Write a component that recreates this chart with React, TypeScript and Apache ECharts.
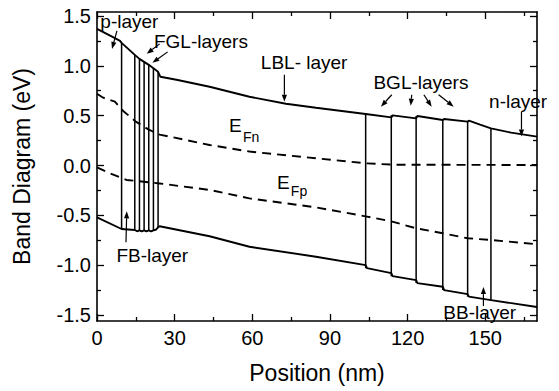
import React, { useEffect, useRef } from "react";
import * as echarts from "echarts";

// Position (nm) / energy (eV) samples of the band edges and quasi-Fermi levels
const conductionBand: [number, number][] = [
  [0, 1.37], [3, 1.33], [6, 1.29], [8.9, 1.25], [9.5, 1.23], [14.6, 1.11],
  [16.4, 1.07], [18.2, 1.04], [20.0, 1.01], [21.8, 0.975], [23.6, 0.94],
  [24.5, 0.89], [30.7, 0.86], [43.5, 0.79], [58.9, 0.69], [73, 0.62],
  [84.6, 0.58], [103.8, 0.517], [113.7, 0.483], [114.2, 0.503], [123.3, 0.473],
  [123.8, 0.497], [133.6, 0.457], [134.1, 0.467], [143.2, 0.44], [143.7, 0.45],
  [148, 0.41], [152.2, 0.373], [160, 0.33], [170, 0.29],
];

const valenceBand: [number, number][] = [
  [0, -0.52], [9.5, -0.637], [14.6, -0.647], [15.5, -0.66], [16.4, -0.65],
  [17.3, -0.66], [18.2, -0.65], [19.1, -0.66], [20.0, -0.65], [20.9, -0.66],
  [21.8, -0.65], [22.7, -0.645], [23.6, -0.62], [24.2, -0.61], [43.5, -0.71],
  [58.9, -0.815], [84.6, -0.915], [103.8, -1.0], [104.3, -1.03], [113.7, -1.08],
  [114.2, -1.11], [123.3, -1.15], [123.8, -1.18], [133.6, -1.216], [134.1, -1.25],
  [143.2, -1.29], [143.7, -1.316], [152.2, -1.35], [170, -1.42],
];

const electronFermi: [number, number][] = [
  [0, 0.72], [2.4, 0.68], [6.9, 0.64], [10, 0.55], [15, 0.44], [20, 0.36],
  [24.2, 0.31], [28, 0.29], [43.5, 0.206], [58.9, 0.14], [84.6, 0.072],
  [103.8, 0.022], [115, 0.008], [170, 0.005],
];

const holeFermi: [number, number][] = [
  [0, -0.018], [5, -0.078], [11.4, -0.145], [24.2, -0.18], [43.5, -0.245],
  [58.9, -0.33], [84.6, -0.42], [103.8, -0.51], [113.7, -0.56], [123.3, -0.63],
  [133.6, -0.68], [143.2, -0.73], [152.2, -0.747], [170, -0.79],
];

// Layer interfaces: position, conduction-band edge, valence-band edge
const interfaceX = [9.5, 14.6, 16.4, 18.2, 20.0, 21.8, 23.6, 103.8, 113.7, 123.3, 133.6, 143.2, 152.2];
const interfaceTop = [1.23, 1.11, 1.07, 1.04, 1.01, 0.975, 0.94, 0.517, 0.503, 0.497, 0.467, 0.45, 0.373];
const interfaceBottom = [-0.637, -0.647, -0.65, -0.65, -0.65, -0.65, -0.62, -1.03, -1.11, -1.18, -1.25, -1.316, -1.35];

const xMajor = [0, 30, 60, 90, 120, 150];
const xMinor = [15, 45, 75, 105, 135, 165];
const yMajor = [-1.5, -1.0, -0.5, 0, 0.5, 1.0, 1.5];
const yMinor = [-1.25, -0.75, -0.25, 0.25, 0.75, 1.25];

// Annotation labels (left edge / vertical centre, in data units)
const labels: { text: string; at: [number, number]; size?: number }[] = [
  { text: "p-layer", at: [1.3, 1.44] },
  { text: "FGL-layers", at: [22.0, 1.24] },
  { text: "LBL- layer", at: [63.3, 1.03] },
  { text: "BGL-layers", at: [106.8, 0.83] },
  { text: "n-layer", at: [151.5, 0.64] },
  { text: "E", at: [51.0, 0.4] },
  { text: "Fn", at: [56.4, 0.29], size: 14 },
  { text: "E", at: [69.5, -0.17] },
  { text: "Fp", at: [74.9, -0.26], size: 14 },
  { text: "FB-layer", at: [7.5, -0.9] },
  { text: "BB-layer", at: [133.8, -1.47] },
];

// Pointer arrows: tail -> head
const arrows: [[number, number], [number, number]][] = [
  [[7.7, 1.35], [5.8, 1.17]],
  [[24.2, 1.22], [19.2, 1.12]],
  [[27.3, 1.14], [21.4, 1.03]],
  [[72.4, 0.91], [72.4, 0.64]],
  [[113.9, 0.71], [109.7, 0.59]],
  [[121.6, 0.71], [121.2, 0.6]],
  [[126.3, 0.71], [129.3, 0.59]],
  [[132, 0.71], [137.8, 0.59]],
  [[164, 0.54], [164, 0.29]],
  [[11.2, -0.77], [11.5, -0.46]],
  [[149.3, -1.41], [149.3, -1.22]],
];

const FONT = "'Liberation Sans', Arial, Helvetica, sans-serif";
const X_MIN = 0;
const X_MAX = 170;
const Y_MIN = -1.56;
const Y_MAX = 1.54;

function xAxisDef(position: "top" | "bottom", values: number[], major: boolean, withLabels: boolean) {
  return {
    type: "value" as const,
    min: X_MIN,
    max: X_MAX,
    position,
    name: withLabels ? "Position (nm)" : "",
    nameLocation: "middle" as const,
    nameGap: 40,
    nameTextStyle: { color: "#000", fontSize: 23, fontFamily: FONT },
    axisLine: { show: major, onZero: false, lineStyle: { color: "#000", width: 1.6 } },
    axisTick: {
      show: true,
      inside: true,
      length: major ? 7 : 4,
      customValues: values,
      lineStyle: { color: "#000", width: 1.3 },
    },
    axisLabel: withLabels
      ? { show: true, customValues: values, color: "#000", fontSize: 20, fontFamily: FONT, margin: 7 }
      : { show: false },
    splitLine: { show: false },
  };
}

function yAxisDef(position: "left" | "right", values: number[], major: boolean, withLabels: boolean) {
  return {
    type: "value" as const,
    min: Y_MIN,
    max: Y_MAX,
    position,
    name: withLabels ? "Band Diagram (eV)" : "",
    nameLocation: "middle" as const,
    nameGap: 64,
    nameRotate: 90,
    nameTextStyle: { color: "#000", fontSize: 23, fontFamily: FONT },
    axisLine: { show: major, onZero: false, lineStyle: { color: "#000", width: 1.6 } },
    axisTick: {
      show: true,
      inside: true,
      length: major ? 7 : 4,
      customValues: values,
      lineStyle: { color: "#000", width: 1.3 },
    },
    axisLabel: withLabels
      ? {
          show: true,
          customValues: values,
          color: "#000",
          fontSize: 20,
          fontFamily: FONT,
          margin: 6,
          formatter: (v: number) => v.toFixed(1),
        }
      : { show: false },
    splitLine: { show: false },
  };
}

export default function App() {
  const ref = useRef<HTMLDivElement>(null);

  useEffect(() => {
    document.body.style.margin = "0";
    const el = ref.current!;
    const chart = echarts.init(el, null, { renderer: "svg", width: 559, height: 391 });

    const solid = (name: string, data: [number, number][]) => ({
      name,
      type: "line" as const,
      data,
      showSymbol: false,
      symbol: "none",
      smooth: false,
      lineStyle: { color: "#000", width: 1.9 },
      silent: true,
    });
    const dashed = (name: string, data: [number, number][]) => ({
      name,
      type: "line" as const,
      data,
      showSymbol: false,
      symbol: "none",
      lineStyle: { color: "#000", width: 1.9, type: [9, 6] as number[] },
      silent: true,
    });

    const interfaceSeries = interfaceX.map((x, i) => ({
      name: `interface-${i}`,
      type: "line" as const,
      data: [
        [x, interfaceTop[i]],
        [x, interfaceBottom[i]],
      ],
      showSymbol: false,
      symbol: "none",
      lineStyle: { color: "#000", width: 1.5 },
      silent: true,
    }));

    chart.setOption({
      animation: false,
      backgroundColor: "#fff",
      grid: { left: 97, right: 22, top: 12, bottom: 70, containLabel: false },
      xAxis: [
        xAxisDef("bottom", xMajor, true, true),
        xAxisDef("bottom", xMinor, false, false),
        xAxisDef("top", xMajor, true, false),
        xAxisDef("top", xMinor, false, false),
      ],
      yAxis: [
        yAxisDef("left", yMajor, true, true),
        yAxisDef("left", yMinor, false, false),
        yAxisDef("right", yMajor, true, false),
        yAxisDef("right", yMinor, false, false),
      ],
      series: [
        solid("Ec", conductionBand),
        solid("Ev", valenceBand),
        dashed("EFn", electronFermi),
        dashed("EFp", holeFermi),
        ...interfaceSeries,
      ],
    });

    const toPx = (p: [number, number]) =>
      chart.convertToPixel({ xAxisIndex: 0, yAxisIndex: 0 }, p) as number[];

    const graphics: any[] = [];
    labels.forEach((l) => {
      const [px, py] = toPx(l.at);
      graphics.push({
        type: "text",
        x: px,
        y: py,
        silent: true,
        style: {
          text: l.text,
          fill: "#000",
          font: `${l.size ?? 19}px ${FONT}`,
          textAlign: "left",
          textVerticalAlign: "middle",
        },
      });
    });
    arrows.forEach(([from, to]) => {
      const [x1, y1] = toPx(from);
      const [x2, y2] = toPx(to);
      const dx = x2 - x1;
      const dy = y2 - y1;
      const len = Math.hypot(dx, dy) || 1;
      const ux = dx / len;
      const uy = dy / len;
      const head = 7;
      const half = 2.6;
      const bx = x2 - ux * head;
      const by = y2 - uy * head;
      graphics.push({
        type: "line",
        silent: true,
        shape: { x1, y1, x2: bx, y2: by },
        style: { stroke: "#000", lineWidth: 1.2 },
      });
      graphics.push({
        type: "polygon",
        silent: true,
        shape: {
          points: [
            [x2, y2],
            [bx - uy * half, by + ux * half],
            [bx + uy * half, by - ux * half],
          ],
        },
        style: { fill: "#000" },
      });
    });

    chart.setOption({ graphic: graphics });

    return () => {
      chart.dispose();
    };
  }, []);

  return <div ref={ref} style={{ width: 559, height: 391 }} />;
}
